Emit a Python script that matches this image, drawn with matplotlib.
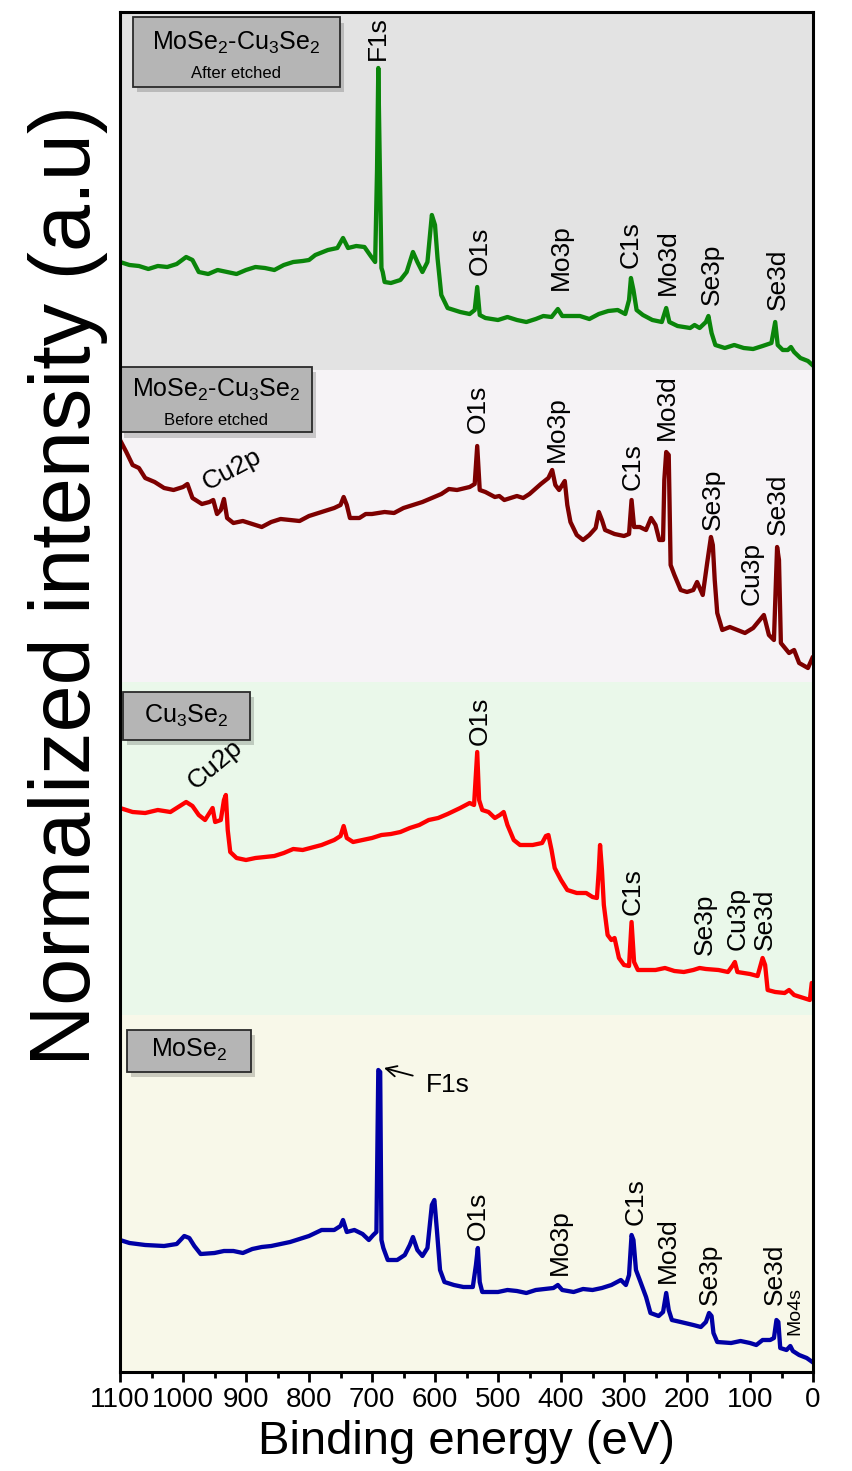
import matplotlib
matplotlib.use("Agg")
import matplotlib.pyplot as plt
from matplotlib.patches import Rectangle
from matplotlib.ticker import MultipleLocator

plt.rcParams['font.family'] = ['Liberation Sans', 'DejaVu Sans']
plt.rcParams['mathtext.fontset'] = 'custom'
plt.rcParams['mathtext.rm'] = 'Liberation Sans'
plt.rcParams['mathtext.it'] = 'Liberation Sans:italic'

# ---- spectra (binding energy in eV, intensity above panel base, a.u.) ----
e_green = [1100, 1085, 1070, 1055, 1040, 1025, 1010, 995, 985, 975, 960, 945, 930, 915, 900,
           885, 870, 855, 840, 825, 810, 800, 790, 770, 755, 746, 738, 725, 712, 702, 695,
           692, 690, 688, 685, 683, 680, 670, 655, 645, 635, 628, 620, 612, 605, 600, 596,
           590, 580, 560, 545, 537, 533, 529, 520, 500, 485, 470, 455, 440, 428, 415, 405,
           398, 370, 355, 340, 325, 310, 298, 292, 289, 285, 280, 270, 255, 240, 233, 228,
           215, 195, 188, 180, 170, 166, 161, 155, 140, 125, 110, 95, 80, 66, 60, 56, 48,
           40, 35, 30, 20, 8, 1]
i_green = [108, 105, 104, 101, 104, 103, 106, 113, 110, 98, 96, 100, 98, 96, 100,
           103, 102, 100, 105, 108, 109, 110, 115, 120, 122, 132, 122, 124, 123, 114, 108,
           200, 302, 220, 102, 98, 88, 87, 90, 98, 118, 108, 98, 108, 155, 145, 112,
           75, 62, 58, 56, 60, 83, 55, 52, 50, 53, 50, 48, 51, 54, 53, 61,
           54, 54, 51, 56, 59, 60, 56, 70, 92, 80, 60, 55, 50, 48, 62, 48,
           44, 42, 45, 42, 48, 54, 37, 25, 22, 25, 22, 21, 24, 27, 48, 25, 20,
           20, 23, 18, 12, 9, 5]

e_maroon = [1100, 1090, 1080, 1070, 1060, 1045, 1030, 1015, 1000, 993, 985, 970, 958, 952,
            946, 940, 935, 930, 920, 905, 890, 875, 860, 845, 830, 815, 800, 780, 760, 750,
            745, 740, 735, 720, 710, 700, 680, 665, 650, 635, 620, 605, 590, 578, 565, 545,
            537, 533, 529, 520, 505, 498, 490, 470, 460, 450, 432, 420, 414, 409, 403, 398,
            394, 390, 385, 375, 365, 355, 345, 340, 335, 330, 315, 300, 292, 288, 284, 275,
            265, 257, 250, 244, 238, 236, 233, 229, 226, 220, 210, 200, 190, 184, 175, 168,
            162, 159, 156, 152, 144, 132, 120, 108, 95, 78, 70, 62, 57, 54, 51, 38, 30,
            22, 8, 1]
i_maroon = [242, 230, 217, 214, 204, 200, 194, 192, 195, 198, 184, 178, 180, 182,
            168, 172, 183, 164, 159, 161, 158, 155, 160, 163, 162, 161, 166, 170, 174, 177,
            185, 177, 164, 164, 168, 168, 170, 169, 174, 177, 180, 184, 188, 193, 192, 195,
            198, 236, 192, 190, 185, 186, 182, 186, 184, 188, 198, 204, 212, 197, 192, 197,
            201, 177, 160, 147, 142, 147, 154, 170, 162, 152, 148, 146, 148, 182, 155, 155,
            152, 164, 157, 142, 142, 202, 230, 227, 117, 107, 92, 90, 92, 100, 87, 119,
            145, 137, 102, 69, 52, 55, 52, 49, 54, 67, 47, 42, 135, 122, 39, 29, 32,
            19, 14, 24]

e_red = [1100, 1080, 1060, 1040, 1020, 1005, 995, 985, 975, 965, 957, 953, 949, 940, 935,
         932, 929, 925, 915, 900, 885, 870, 855, 840, 825, 810, 780, 760, 750, 745, 740,
         730, 700, 685, 670, 655, 640, 625, 610, 595, 580, 560, 545, 538, 533, 530, 525,
         515, 505, 497, 491, 485, 475, 465, 445, 430, 424, 420, 415, 410, 400, 390, 375,
         360, 350, 343, 340, 338, 335, 332, 326, 320, 315, 308, 300, 292, 288, 284, 278,
         250, 235, 220, 205, 190, 180, 170, 150, 135, 128, 124, 120, 100, 88, 80, 76, 72,
         60, 45, 38, 30, 15, 5, 2, 0]
i_red = [207, 203, 202, 205, 203, 209, 213, 209, 200, 195, 203, 207, 193, 195, 215,
         220, 185, 163, 157, 155, 157, 158, 159, 162, 166, 165, 170, 175, 179, 189, 177,
         173, 177, 180, 181, 183, 187, 190, 195, 197, 201, 207, 212, 210, 263, 215, 205,
         203, 197, 200, 203, 190, 175, 170, 170, 172, 179, 180, 165, 147, 135, 125, 122,
         122, 118, 117, 145, 170, 145, 110, 80, 75, 77, 57, 50, 49, 93, 53, 45,
         45, 47, 44, 43, 45, 47, 46, 45, 43, 49, 53, 43, 41, 39, 57, 50, 25,
         23, 22, 25, 20, 17, 15, 32, 32]

e_blue = [1100, 1085, 1060, 1030, 1010, 998, 990, 982, 972, 950, 935, 920, 905, 890, 875,
          860, 845, 830, 800, 780, 760, 750, 746, 740, 728, 715, 705, 698, 693, 690, 687,
          685, 682, 675, 660, 648, 640, 635, 628, 620, 612, 605, 601, 597, 592, 585, 570,
          555, 540, 535, 532, 529, 525, 500, 485, 470, 455, 440, 412, 405, 398, 380, 365,
          350, 335, 320, 305, 297, 292, 288, 285, 281, 275, 265, 258, 245, 238, 233, 229,
          224, 210, 190, 178, 170, 165, 161, 158, 152, 130, 115, 100, 90, 80, 68, 62, 58,
          55, 52, 42, 36, 32, 22, 10, 1]
i_blue = [132, 129, 127, 126, 128, 136, 134, 126, 118, 119, 121, 121, 119, 123, 125,
          126, 128, 130, 136, 142, 142, 146, 152, 140, 142, 138, 132, 137, 140, 302, 300,
          132, 124, 112, 112, 117, 127, 135, 122, 116, 124, 167, 172, 142, 102, 90, 87,
          85, 85, 107, 124, 90, 80, 80, 82, 81, 79, 82, 84, 87, 82, 80, 83,
          82, 84, 87, 92, 87, 97, 137, 132, 102, 92, 75, 59, 56, 60, 79, 62,
          52, 50, 47, 45, 50, 59, 56, 39, 30, 29, 31, 29, 27, 32, 32, 34, 52,
          50, 24, 22, 26, 21, 17, 14, 10]

spectra = [(e_green, i_green), (e_maroon, i_maroon), (e_red, i_red), (e_blue, i_blue)]
offsets = [1002, 690, 357, 0]
line_colors = ['#0a850a', '#7d0000', '#ff0000', '#0000a5']
panel_edges = [(1002, 1360), (690, 1002), (357, 690), (0, 357)]
panel_colors = ['#e3e3e3', '#f6f3f6', '#eaf8ea', '#f8f8e9']

# peak labels: (name, energy, y of text start)
labels_green = [('F1s', 690, 1312), ('O1s', 529, 1097), ('Mo3p', 400, 1082), ('C1s', 290, 1104),
                ('Mo3d', 230, 1077), ('Se3p', 160, 1067), ('Se3d', 56, 1062)]
labels_maroon = [('O1s', 532, 939), ('Mo3p', 406, 910), ('C1s', 286, 882), ('Mo3d', 232, 932),
                 ('Se3p', 159, 842), ('Cu3p', 97, 767), ('Se3d', 56, 837)]
labels_red = [('O1s', 529, 627), ('C1s', 286, 457), ('Se3p', 171, 417), ('Cu3p', 119, 422),
              ('Se3d', 76, 422)]
labels_blue = [('O1s', 532, 132), ('Mo3p', 402, 97), ('C1s', 281, 147), ('Mo3d', 230, 89),
               ('Se3p', 163, 67), ('Se3d', 60, 67)]

W, H = 852, 1471
fig = plt.figure(figsize=(W / 100, H / 100), dpi=100)
ax = fig.add_axes([120 / W, 1 - 1372 / H, 693 / W, 1360 / H])

for (lo, hi), c in zip(panel_edges, panel_colors):
    ax.axhspan(lo, hi, color=c, lw=0, zorder=0)

for (e, i), off, c in zip(spectra, offsets, line_colors):
    ax.plot(e, [v + off for v in i], color=c, lw=3.1, solid_joinstyle='round', zorder=3)

for group in (labels_green, labels_maroon, labels_red, labels_blue):
    for name, e, y in group:
        ax.text(e, y, name, rotation=90, ha='center', va='bottom', fontsize=19, zorder=4)

ax.text(29, 37, 'Mo4s', rotation=90, ha='center', va='bottom', fontsize=14, zorder=4)
ax.text(922, 902, 'Cu2p', rotation=28, ha='center', va='center', fontsize=19, zorder=4)
ax.text(949, 607, 'Cu2p', rotation=40, ha='center', va='center', fontsize=19, zorder=4)
ax.annotate('F1s', xy=(681, 304), xytext=(579, 287), ha='center', va='center', fontsize=19,
            arrowprops=dict(arrowstyle='->', color='black', lw=1.3, shrinkA=8, shrinkB=0),
            zorder=4)

# sample name boxes (axes fraction)
boxes = [(0.019, 0.945, 0.298, 0.051), (0.0, 0.691, 0.277, 0.048),
         (0.004, 0.465, 0.184, 0.035), (0.010, 0.2206, 0.179, 0.031)]
for (bx, by, bw, bh) in boxes:
    ax.add_patch(Rectangle((bx + 0.006, by - 0.004), bw, bh, transform=ax.transAxes,
                           fc='#000000', alpha=0.18, lw=0, zorder=5, clip_on=False))
    ax.add_patch(Rectangle((bx, by), bw, bh, transform=ax.transAxes, fc='#b5b5b5',
                           ec='#2a2a2a', lw=1.3, zorder=6, clip_on=False))

ax.text(0.168, 0.9775, r'MoSe$_2$-Cu$_3$Se$_2$', transform=ax.transAxes, ha='center',
        va='center', fontsize=18, zorder=7)
ax.text(0.168, 0.9545, 'After etched', transform=ax.transAxes, ha='center', va='center',
        fontsize=12, zorder=7)
ax.text(0.139, 0.7225, r'MoSe$_2$-Cu$_3$Se$_2$', transform=ax.transAxes, ha='center',
        va='center', fontsize=18, zorder=7)
ax.text(0.139, 0.7, 'Before etched', transform=ax.transAxes, ha='center', va='center',
        fontsize=12, zorder=7)
ax.text(0.096, 0.4825, r'Cu$_3$Se$_2$', transform=ax.transAxes, ha='center', va='center',
        fontsize=18, zorder=7)
ax.text(0.1, 0.2365, r'MoSe$_2$', transform=ax.transAxes, ha='center', va='center',
        fontsize=18, zorder=7)

ax.set_xlim(1100, 0)
ax.set_ylim(0, 1360)
ax.set_yticks([])
ax.xaxis.set_major_locator(MultipleLocator(100))
ax.xaxis.set_minor_locator(MultipleLocator(50))
ax.tick_params(axis='x', which='major', direction='out', length=7, width=2, labelsize=20, pad=4)
ax.tick_params(axis='x', which='minor', direction='out', length=4, width=2)
for s in ax.spines.values():
    s.set_linewidth(2.2)
    s.set_zorder(8)

ax.set_xlabel('Binding energy (eV)', fontsize=34, labelpad=5)
fig.text(68 / W, 1 - 585 / H, 'Normalized intensity (a.u)', rotation=90, ha='center',
         va='center', fontsize=61)

fig.savefig('out.png', dpi=100)
